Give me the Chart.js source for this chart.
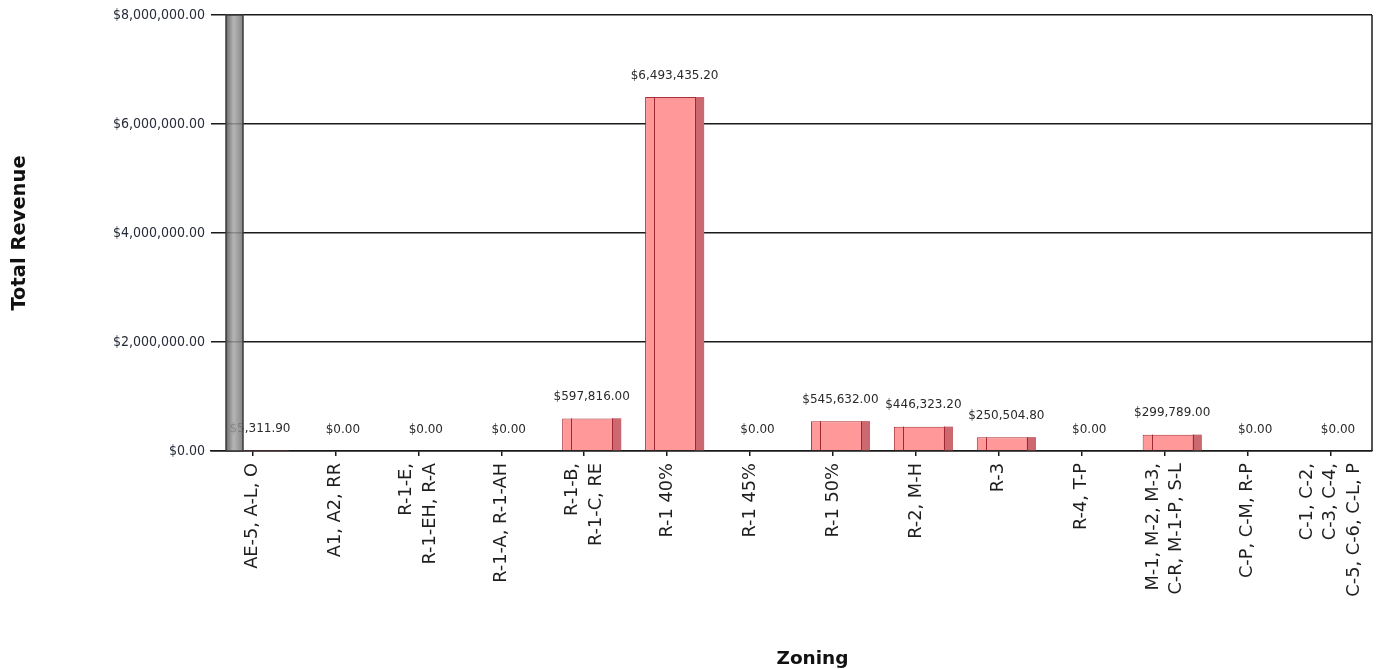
<!DOCTYPE html>
<html>
<head>
<meta charset="utf-8">
<title>Total Revenue by Zoning</title>
<script src="https://cdn.jsdelivr.net/npm/chart.js@4.4.1/dist/chart.umd.min.js"></script>
<style>
  html, body { margin: 0; padding: 0; background: #ffffff; }
  #wrap { width: 1380px; height: 669px; position: relative; }
</style>
</head>
<body>
<div id="wrap"><canvas id="revenueChart"></canvas></div>
<script>
// Zoning groups (one entry per category, split into display lines)
const zoningLabels = [
  ['AE-5, A-L, O'],
  ['A1, A2, RR'],
  ['R-1-E,', 'R-1-EH, R-A'],
  ['R-1-A, R-1-AH'],
  ['R-1-B,', 'R-1-C, RE'],
  ['R-1 40%'],
  ['R-1 45%'],
  ['R-1 50%'],
  ['R-2, M-H'],
  ['R-3'],
  ['R-4, T-P'],
  ['M-1, M-2, M-3,', 'C-R, M-1-P, S-L'],
  ['C-P, C-M, R-P'],
  ['C-1, C-2,', 'C-3, C-4,', 'C-5, C-6, C-L, P']
];

// Total revenue per zoning group
const totalRevenue = [
  5311.90, 0, 0, 0, 597816.00, 6493435.20, 0,
  545632.00, 446323.20, 250504.80, 0, 299789.00, 0, 0
];

// Value axis ticks
const revenueTicks = [0, 2000000, 4000000, 6000000, 8000000];

const xTitle = 'Zoning';

function money(v) {
  const neg = v < 0;
  const fixed = Math.abs(v).toFixed(2);
  const [intPart, dec] = fixed.split('.');
  const grouped = intPart.replace(/\B(?=(\d{3})+(?!\d))/g, ',');
  return (neg ? '-' : '') + '$' + grouped + '.' + dec;
}

// Rotated multi-line tick labels: Chart.js stacks extra lines to the right of
// the tick, so lines are spaced with blank half-lines and shifted back by a
// fixed label offset, which centres every label on its tick.
const TICK_FONT = 17.8;
const HALF_LINE = 0.66;
const MAX_LINES = 3;
function centredLines(lines) {
  const out = [];
  for (let k = 0; k < MAX_LINES - lines.length; k++) out.push('');
  lines.forEach((l, i) => { if (i) out.push(''); out.push(l); });
  return out;
}
const tickLabels = zoningLabels.map(centredLines);

// Bars are drawn with a small depth shift and a shaded side face.
const DEPTH = 7.5;
const SIDE_W = 9;
const bar3d = {
  id: 'bar3d',
  beforeDatasetsDraw(chart) {
    chart.ctx.save();
    chart.ctx.translate(DEPTH, 0);
  },
  afterDatasetsDraw(chart) {
    const ctx = chart.ctx;
    ctx.restore();
    const meta = chart.getDatasetMeta(0);
    ctx.save();
    meta.data.forEach((el, i) => {
      const p = el.getProps(['x', 'y', 'base', 'width'], true);
      const left = p.x - p.width / 2 + DEPTH;
      const right = p.x + p.width / 2 + DEPTH;
      const h = p.base - p.y;
      if (h > 2) {
        ctx.fillStyle = 'rgb(204,104,112)';
        ctx.fillRect(right - SIDE_W, p.y, SIDE_W, h);
        ctx.strokeStyle = 'rgb(160,40,52)';
        ctx.lineWidth = 1;
        ctx.beginPath();
        ctx.moveTo(Math.round(right - SIDE_W) + 0.5, p.y);
        ctx.lineTo(Math.round(right - SIDE_W) + 0.5, p.base);
        ctx.moveTo(Math.round(left + SIDE_W) + 0.5, p.y);
        ctx.lineTo(Math.round(left + SIDE_W) + 0.5, p.base);
        ctx.stroke();
      }
      ctx.fillStyle = '#2a2a2a';
      ctx.font = '12px "DejaVu Sans"';
      ctx.textAlign = 'center';
      ctx.textBaseline = 'middle';
      ctx.fillText(money(totalRevenue[i]), p.x + DEPTH, p.y - 21.5);
    });
    ctx.restore();
  },
  afterDraw(chart) {
    const ctx = chart.ctx;
    const a = chart.chartArea;
    ctx.save();
    // left wall
    const wx = a.left + 15, ww = 17;
    const g = ctx.createLinearGradient(wx, 0, wx + ww, 0);
    g.addColorStop(0, 'rgba(90,90,90,0.9)');
    g.addColorStop(0.45, 'rgba(165,165,165,0.82)');
    g.addColorStop(1, 'rgba(120,120,120,0.9)');
    ctx.fillStyle = g;
    ctx.fillRect(wx, a.top, ww, a.bottom - a.top);
    ctx.strokeStyle = '#3c3c3c';
    ctx.lineWidth = 1.5;
    ctx.strokeRect(wx, a.top, ww, a.bottom - a.top);
    // right frame edge
    ctx.strokeStyle = '#1a1a1a';
    ctx.beginPath();
    ctx.moveTo(a.right, a.top);
    ctx.lineTo(a.right, a.bottom);
    ctx.stroke();
    // category axis title, centred on the plot floor (shifted by the wall depth)
    ctx.fillStyle = '#111';
    ctx.font = 'bold 18.5px "DejaVu Sans"';
    ctx.textAlign = 'center';
    ctx.textBaseline = 'middle';
    ctx.fillText(xTitle, (a.left + a.right) / 2 + 21, chart.height - 10);
    ctx.restore();
  }
};

new Chart(document.getElementById('revenueChart'), {
  type: 'bar',
  data: {
    labels: tickLabels,
    datasets: [{
      label: 'Total Revenue',
      data: totalRevenue,
      backgroundColor: 'rgb(255,152,152)',
      borderColor: 'rgb(170,45,55)',
      borderWidth: 1,
      barPercentage: 0.712,
      categoryPercentage: 1.0
    }]
  },
  options: {
    responsive: true,
    maintainAspectRatio: false,
    animation: false,
    layout: { padding: { top: 15, right: 8, bottom: 0, left: 0 } },
    plugins: {
      legend: { display: false },
      tooltip: { enabled: false }
    },
    scales: {
      x: {
        offset: true,
        afterFit(s) { s.height = 218; s.paddingLeft = 0; s.paddingRight = 0; },
        grid: {
          display: true, drawOnChartArea: false, drawTicks: true,
          tickLength: 5, color: '#1a1a1a', lineWidth: 1.5, offset: false
        },
        border: { display: true, color: '#1a1a1a', width: 1.5 },
        ticks: {
          autoSkip: false, minRotation: 90, maxRotation: 90, padding: 7,
          labelOffset: -2 * TICK_FONT * HALF_LINE,
          color: '#1e1e1e',
          font: { family: 'DejaVu Sans', size: TICK_FONT, lineHeight: HALF_LINE }
        }
      },
      y: {
        min: revenueTicks[0],
        max: revenueTicks[revenueTicks.length - 1],
        afterBuildTicks(s) { s.ticks = revenueTicks.map(v => ({ value: v })); },
        afterFit(s) { s.width = 211; },
        grid: { color: '#1a1a1a', lineWidth: 1.5, drawTicks: false },
        border: { display: false },
        ticks: {
          padding: 6, color: '#262b38',
          font: { family: "'DejaVu Sans Condensed', 'DejaVu Sans'", size: 14 },
          callback: v => money(v)
        },
        title: {
          display: true, text: 'Total Revenue', color: '#111',
          font: { family: 'DejaVu Sans', size: 19.5, weight: 'bold' },
          padding: { top: 8, bottom: 0 }
        }
      }
    }
  },
  plugins: [bar3d]
});
</script>
</body>
</html>
